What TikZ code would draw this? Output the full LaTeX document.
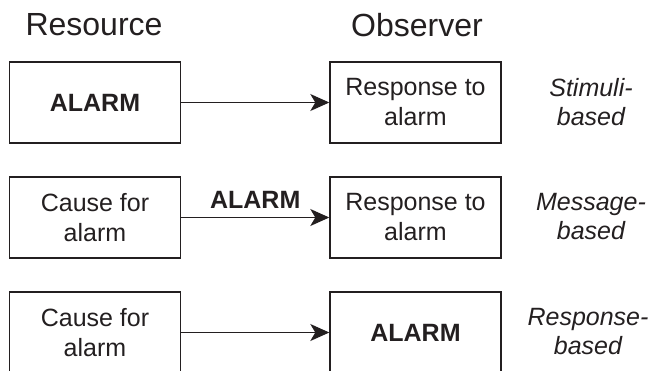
\documentclass[tikz,border=0pt]{standalone}
\usepackage{fontspec}
\setmainfont{Liberation Sans}
\usetikzlibrary{arrows.meta}
\definecolor{ink}{RGB}{35,31,32}
\tikzset{
  box/.style={draw=ink, line width=1.4pt, minimum width=171pt, minimum height=81pt,
    align=center, text=ink, font=\fontsize{25}{30}\selectfont},
  head/.style={text=ink, font=\fontsize{32}{36}\selectfont},
  kind/.style={align=center, text=ink, font=\fontsize{25}{29}\selectfont\itshape},
  link/.style={draw=ink, line width=1.2pt, -{Stealth[length=19pt,width=17pt,inset=5pt]}},
}

\begin{document}
\begin{tikzpicture}[x=1pt,y=-1pt]
  \useasboundingbox (0,0) rectangle (654,370);
  \clip (0,0) rectangle (654,370);

  % column heads
  \node[head] (resource) at (94,25) {Resource};
  \node[head] (observer) at (417,25) {Observer};

  % stimuli-based
  \node[box] (cause1) at (95,102.5) {\textbf{ALARM}};
  \node[box] (resp1) at (415.5,102.5) {Response to\\alarm};
  \node[kind] (kind1) at (591,102) {Stimuli-\\based};
  \draw[link] (cause1) -- (resp1);

  % message-based
  \node[box] (cause2) at (95,217.5) {Cause for\\alarm};
  \node[box] (resp2) at (415.5,217.5) {Response to\\alarm};
  \node[kind] (kind2) at (591,217) {Message-\\based};
  \draw[link] (cause2) -- node[above=8pt, inner sep=0pt, text=ink, font=\fontsize{25}{30}\selectfont\bfseries] (msg) {ALARM} (resp2);

  % response-based
  \node[box] (cause3) at (95,332.5) {Cause for\\alarm};
  \node[box] (resp3) at (415.5,332.5) {\textbf{ALARM}};
  \node[kind] (kind3) at (588,332) {Response-\\based};
  \draw[link] (cause3) -- (resp3);
\end{tikzpicture}
\end{document}
